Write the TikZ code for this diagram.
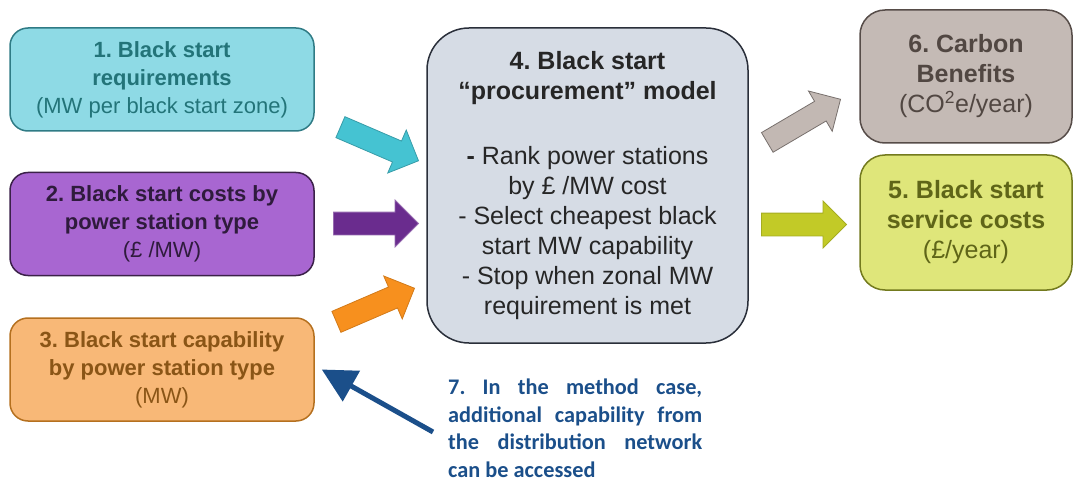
\documentclass[tikz,border=0pt]{standalone}
\usepackage{fontspec}
\setmainfont{Liberation Sans}
\newfontfamily\notefont{Carlito}
\usetikzlibrary{shapes.arrows,arrows.meta}
\frenchspacing

\definecolor{reqfill}{HTML}{8EDAE5}
\definecolor{reqline}{HTML}{2F7B85}
\definecolor{reqtext}{HTML}{237479}
\definecolor{costfill}{HTML}{A866D1}
\definecolor{costline}{HTML}{3B2149}
\definecolor{costtext}{HTML}{2F1B3D}
\definecolor{capfill}{HTML}{F8B877}
\definecolor{capline}{HTML}{B5701F}
\definecolor{captext}{HTML}{8A5516}
\definecolor{modfill}{HTML}{D6DCE5}
\definecolor{modline}{HTML}{2A2F3A}
\definecolor{modtext}{HTML}{262626}
\definecolor{carbfill}{HTML}{C4BAB5}
\definecolor{carbline}{HTML}{564C48}
\definecolor{carbtext}{HTML}{514742}
\definecolor{servfill}{HTML}{DFE67A}
\definecolor{servline}{HTML}{737A1E}
\definecolor{servtext}{HTML}{5F6518}
\definecolor{cyanarrow}{HTML}{45C3D2}
\definecolor{purparrow}{HTML}{6A2C8E}
\definecolor{orangearrow}{HTML}{F7901E}
\definecolor{greyarrow}{HTML}{C2B8B3}
\definecolor{greenarrow}{HTML}{C2CA27}
\definecolor{notecol}{HTML}{1B4F8A}

\begin{document}
\begin{tikzpicture}[x=1pt, y=-1pt,
    box/.style={draw, line width=1.5pt, rounded corners=18pt, align=center, inner sep=0pt},
    inbox/.style={box, font=\fontsize{22}{28}\selectfont, minimum width=304pt, minimum height=103pt},
    outbox/.style={box, rounded corners=25pt, font=\fontsize{25}{30}\selectfont, minimum width=212pt},
    fat/.style={single arrow, draw, line width=0.8pt, inner xsep=0pt, inner ysep=11pt,
        single arrow head extend=12pt, minimum height=85pt, anchor=tip}]
    \useasboundingbox (0,0) rectangle (1074,484);

    \node[inbox, fill=reqfill, draw=reqline, text=reqtext] (req) at (162,79.5)
        {\textbf{1. Black start}\\\textbf{requirements}\\(MW per black start zone)};
    \node[inbox, fill=costfill, draw=costline, text=costtext] (cost) at (162,224)
        {\textbf{2. Black start costs by}\\\textbf{power station type}\\(£ /MW)};
    \node[inbox, fill=capfill, draw=capline, text=captext] (cap) at (162,369.5)
        {\textbf{3. Black start capability}\\\textbf{by power station type}\\(MW)};

    \node[box, rounded corners=42pt, minimum width=321pt, minimum height=315pt,
        fill=modfill, draw=modline, text=modtext, font=\fontsize{25}{30}\selectfont] (model) at (587.5,185.5)
        {\textbf{4. Black start}\\\textbf{“procurement” model}\\[35pt]\textbf{-} Rank power stations\\by £ /MW cost\\- Select cheapest black\\start MW capability\\- Stop when zonal MW\\requirement is met};

    \node[outbox, minimum height=133pt, fill=carbfill, draw=carbline, text=carbtext] (carb) at (966,76.5)
        {\textbf{6. Carbon}\\\textbf{Benefits}\\(CO\textsuperscript{2}e/year)};
    \node[outbox, minimum height=135pt, fill=servfill, draw=servline, text=servtext] (serv) at (966,222.5)
        {\textbf{5. Black start}\\\textbf{service costs}\\(£/year)};

    \node[fat, rotate=-23.3, fill=cyanarrow, draw=cyanarrow!80!black] (a1) at (419,161) {};
    \node[fat, fill=purparrow, draw=purparrow!70!white] (a2) at (419,223.5) {};
    \node[fat, rotate=23.3, fill=orangearrow, draw=orangearrow!85!black] (a3) at (415,288) {};
    \node[fat, rotate=30.5, fill=greyarrow, draw=carbline!80] (a6) at (841,99) {};
    \node[fat, fill=greenarrow, draw=greenarrow!85!black] (a5) at (847,224.5) {};

    \node[anchor=north west, text width=254pt, align=justify, inner sep=0pt, text=notecol,
        font=\notefont\bfseries\fontsize{22.3}{27.5}\selectfont] (note) at (448,379)
        {7. In the method case,\linebreak additional capability from\linebreak the distribution network\linebreak can be accessed};
    \coordinate (notetail) at (433,432);
    \draw[line width=5pt, notecol, -{Triangle[length=34pt,width=34pt]}] (notetail) -- ([xshift=7pt]cap.east);
\end{tikzpicture}
\end{document}
